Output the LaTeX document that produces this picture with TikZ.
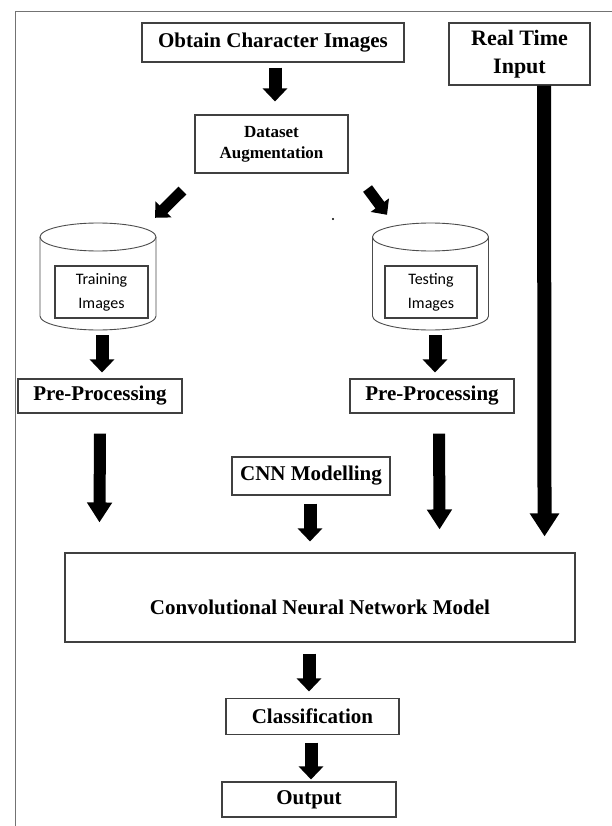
\documentclass[tikz,border=0pt]{standalone}
\usepackage{fontspec}
\setmainfont{Liberation Serif}
\newfontfamily\calfont{Carlito}
\usetikzlibrary{arrows.meta}
\tikzset{
  box/.style={draw=black!75, line width=1.1pt, inner sep=0pt, align=center, font=\bfseries\fontsize{21}{26}\selectfont},
  inbox/.style={draw=black!75, line width=1.1pt, inner sep=0pt, align=center, font=\calfont\fontsize{16}{24}\selectfont},
  blk/.style={line width=13pt, -{Triangle[length=13pt,width=24pt]}},
  diag/.style={line width=11pt, -{Triangle[length=12pt,width=22pt]}},
  longblk/.style={line width=12pt, -{Triangle[length=20pt,width=24pt]}},
  rtiblk/.style={line width=14pt, -{Triangle[length=23pt,width=28pt]}},
  cyl/.style={draw=black!70, line width=0.9pt},
  ghost/.style={inner sep=0pt}
}
\begin{document}
\begin{tikzpicture}[x=1pt,y=-1pt]
\useasboundingbox (0,0) rectangle (612,826);
\fill[white] (0,0) rectangle (612,826);
% frame
\draw[black!55, line width=1pt] (15,826) -- (15,12) -- (612,12);

% boxes
\node[box, minimum width=262, minimum height=39] (obtain) at (273,42.5) {Obtain Character Images};
\node[box, minimum width=141, minimum height=62, font=\bfseries\fontsize{22}{28}\selectfont] (rti) at (519.5,54) {Real Time\\Input};
\node[box, minimum width=153, minimum height=58, font=\bfseries\fontsize{17}{21}\selectfont] (dataset) at (271.5,144) {Dataset\\Augmentation};

% cylinders
\draw[cyl] (98,237) ellipse (58 and 14);
\draw[cyl] (40,237) -- (40,316) arc[start angle=180, end angle=0, x radius=58, y radius=14] -- (156,237);
\node[ghost, minimum width=116, minimum height=107] (train) at (98,276.5) {};
\node[inbox, minimum width=93, minimum height=52] (trainimg) at (101.5,292) {Training\\Images};

\draw[cyl] (430.5,237) ellipse (58 and 14);
\draw[cyl] (372.5,237) -- (372.5,316) arc[start angle=180, end angle=0, x radius=58, y radius=14] -- (488.5,237);
\node[ghost, minimum width=116, minimum height=107] (test) at (430.5,276.5) {};
\node[inbox, minimum width=92, minimum height=52] (testimg) at (431,292) {Testing\\Images};

\node[box, minimum width=164, minimum height=34] (pre1) at (100,396) {Pre-Processing};
\node[box, minimum width=164, minimum height=34] (pre2) at (432,396) {Pre-Processing};
\node[box, minimum width=158, minimum height=38] (cnn) at (311,476) {CNN Modelling};
\node[box, minimum width=510, minimum height=89] (conv) at (320,597.5) {};
\node[font=\bfseries\fontsize{21}{26}\selectfont, inner sep=0pt] (convtxt) at (320,607) {Convolutional Neural Network Model};
\node[box, minimum width=173, minimum height=36] (class) at (312.5,716.5) {Classification};
\node[box, minimum width=174, minimum height=35] (output) at (309,799.5) {Output};

% stray dot
\fill (333,219) circle (1.2);

% arrows
\draw[blk] ([shift={(2,5)}]obtain.south) -- ([shift={(3.5,-13)}]dataset.north);
\draw[diag] ([shift={(-12,17)}]dataset.south west) -- ([shift={(57,-5)}]train.north);
\draw[diag] ([shift={(19,15)}]dataset.south east) -- ([shift={(-43.5,-8)}]test.north);
\draw[blk] ([shift={(4,5)}]train.south) -- ([shift={(2,-6)}]pre1.north);
\draw[blk] ([shift={(4.5,5)}]test.south) -- ([shift={(3,-6)}]pre2.north);
\draw[longblk] ([shift={(0,20)}]pre1.south) -- ([shift={(35,-30)}]conv.north west);
\draw[longblk] ([shift={(7,20)}]pre2.south) -- ([shift={(-136,-23)}]conv.north east);
\draw[rtiblk] ([shift={(24.5,0)}]rti.south) -- ([shift={(-31,-16)}]conv.north east);
\draw[blk] ([shift={(-1,8)}]cnn.south) -- ([shift={(-10,-11)}]conv.north);
\draw[blk] ([shift={(-11,11)}]conv.south) -- ([shift={(-3.5,-6.5)}]class.north);
\draw[blk] ([shift={(-1.5,7.5)}]class.south) -- ([shift={(2,-2)}]output.north);
\end{tikzpicture}
\end{document}
